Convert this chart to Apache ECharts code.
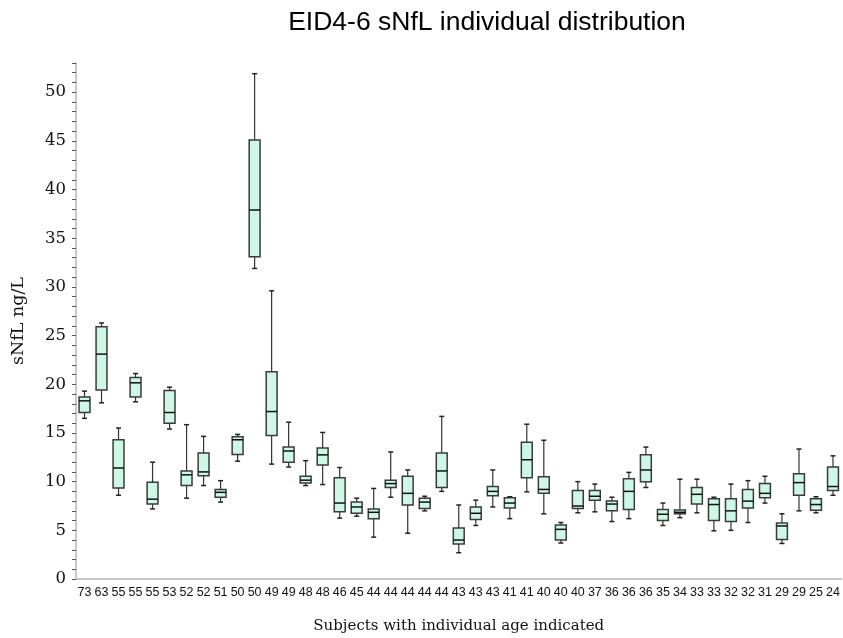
<!DOCTYPE html>
<html>
<head>
<meta charset="utf-8">
<script src="https://cdn.jsdelivr.net/npm/echarts@6/dist/echarts.min.js"></script>
<style>
  html, body { margin: 0; padding: 0; background: #fff; }
  #chart { width: 843px; height: 638px; }
</style>
</head>
<body>
<div id="chart"></div>
<script>
// Subject ages, one box per subject
const ages = ['73','63','55','55','55','53','52','52','51','50','50','49','49','48','48','46','45',
  '44','44','44','44','44','43','43','43','41','41','40','40','40','37','36','36','36','35','34',
  '33','33','32','32','31','29','29','25','24'];

// Five-number summaries per subject (sNfL, ng/L)
const whiskerLow = [16.5, 18.1, 8.6, 18.2, 7.2, 15.4, 8.3, 9.6, 7.9, 12.1, 31.9, 11.8, 11.5, 9.6, 9.7,
  6.25, 6.45, 4.3, 8.4, 4.7, 7.0, 9.0, 2.7, 5.5, 7.4, 6.2, 8.95, 6.7, 3.7, 6.8, 6.9, 5.9, 6.2, 9.4,
  5.5, 6.3, 6.8, 4.95, 5.0, 5.8, 7.8, 3.65, 7.0, 6.8, 8.6];
const quartile1 = [17.1, 19.4, 9.35, 18.7, 7.7, 16.0, 9.6, 10.6, 8.4, 12.8, 33.1, 14.75, 12.0, 9.85, 11.7,
  6.9, 6.75, 6.2, 9.4, 7.6, 7.25, 9.4, 3.6, 6.1, 8.55, 7.3, 10.4, 8.8, 4.0, 7.25, 8.1, 7.0, 7.15, 10.0,
  6.0, 6.7, 7.7, 6.0, 5.9, 7.3, 8.35, 4.05, 8.6, 7.05, 9.1];
const medians = [18.3, 23.1, 11.4, 20.15, 8.2, 17.1, 10.7, 11.0, 8.9, 14.3, 37.9, 17.2, 13.15, 10.15, 12.75,
  7.8, 7.4, 6.85, 9.8, 8.8, 7.9, 11.1, 4.0, 6.75, 9.0, 7.8, 12.25, 9.2, 5.1, 7.5, 8.5, 7.7, 9.0, 11.2,
  6.65, 6.85, 8.7, 7.65, 7.0, 8.0, 8.8, 5.45, 9.9, 7.65, 9.5];
const quartile3 = [18.7, 25.9, 14.3, 20.7, 9.95, 19.35, 11.1, 12.95, 9.2, 14.6, 45.1, 21.3, 13.55, 10.55, 13.45,
  10.4, 7.9, 7.2, 10.15, 10.55, 8.3, 12.95, 5.25, 7.4, 9.5, 8.35, 14.05, 10.5, 5.55, 9.1, 9.1, 8.0, 10.3, 12.75,
  7.15, 7.1, 9.4, 8.25, 8.25, 9.2, 9.8, 5.75, 10.8, 8.25, 11.5];
const whiskerHigh = [19.3, 26.3, 15.5, 21.1, 12.0, 19.7, 15.85, 14.65, 10.1, 14.85, 51.9, 29.6, 16.1, 12.15, 15.05,
  11.45, 8.3, 9.3, 13.05, 11.2, 8.5, 16.7, 7.6, 8.1, 11.2, 8.45, 15.9, 14.25, 5.8, 10.0, 9.75, 8.4, 10.95, 13.55,
  7.8, 10.25, 10.25, 8.4, 9.75, 10.1, 10.55, 6.7, 13.35, 8.45, 12.65];

const boxData = ages.map((a, i) => [i, whiskerLow[i], quartile1[i], medians[i], quartile3[i], whiskerHigh[i]]);

const serifFont = '"DejaVu Serif", "Liberation Serif", serif';
const sansFont = '"Liberation Sans", Arial, sans-serif';

function renderBox(params, api) {
  const i = api.value(0);
  const x = api.coord([i, 0])[0];
  const yLow = api.coord([i, api.value(1)])[1];
  const yQ1 = api.coord([i, api.value(2)])[1];
  const yMed = api.coord([i, api.value(3)])[1];
  const yQ3 = api.coord([i, api.value(4)])[1];
  const yHigh = api.coord([i, api.value(5)])[1];
  const band = api.size([1, 0])[0];
  const hw = band * 0.32;
  const cap = 2.5;
  const lineStyle = { stroke: '#333', lineWidth: 1.2 };
  return {
    type: 'group',
    children: [
      { type: 'line', shape: { x1: x, y1: yQ3, x2: x, y2: yHigh }, style: lineStyle },
      { type: 'line', shape: { x1: x, y1: yQ1, x2: x, y2: yLow }, style: lineStyle },
      { type: 'line', shape: { x1: x - cap, y1: yHigh, x2: x + cap, y2: yHigh }, style: { stroke: '#222', lineWidth: 1.5 } },
      { type: 'line', shape: { x1: x - cap, y1: yLow, x2: x + cap, y2: yLow }, style: { stroke: '#222', lineWidth: 1.5 } },
      { type: 'rect', shape: { x: x - hw, y: yQ3, width: hw * 2, height: yQ1 - yQ3 },
        style: { fill: '#cdf7e6', stroke: '#3a3a3a', lineWidth: 1.5 } },
      { type: 'line', shape: { x1: x - hw, y1: yMed, x2: x + hw, y2: yMed }, style: { stroke: '#111', lineWidth: 1.5 } }
    ]
  };
}

const chart = echarts.init(document.getElementById('chart'), null, { renderer: 'canvas' });
chart.setOption({
  backgroundColor: '#fff',
  animation: false,
  title: {
    text: 'EID4-6 sNfL individual distribution',
    left: 482,
    top: 4,
    textAlign: 'center',
    textStyle: { fontFamily: sansFont, fontSize: 26.5, fontWeight: 'normal', color: '#000' }
  },
  grid: { left: 76, right: 1.5, top: 63, bottom: 59, containLabel: false, outerBoundsMode: 'none' },
  xAxis: {
    type: 'category',
    data: ages,
    name: 'Subjects with individual age indicated',
    nameLocation: 'middle',
    nameGap: 40,
    nameTextStyle: { fontFamily: serifFont, fontSize: 15, color: '#111' },
    axisLine: { lineStyle: { color: '#c8c8c8', width: 2 } },
    axisTick: { alignWithLabel: true, length: 5, lineStyle: { color: '#444' } },
    axisLabel: { interval: 0, margin: 7, fontFamily: sansFont, fontSize: 12.5, color: '#111' },
    splitLine: { show: false }
  },
  yAxis: {
    type: 'value',
    min: 0,
    max: 53,
    interval: 1,
    name: 'sNfL ng/L',
    nameLocation: 'middle',
    nameGap: 49,
    nameRotate: 90,
    nameTextStyle: { fontFamily: serifFont, fontSize: 17.5, color: '#111' },
    axisLine: { show: true, lineStyle: { color: '#c8c8c8', width: 2 } },
    axisTick: { show: true, length: 4, lineStyle: { color: '#555' } },
    axisLabel: {
      margin: 10,
      fontFamily: serifFont,
      fontSize: 16.5,
      color: '#111',
      formatter: v => (v % 5 === 0 ? String(v) : '')
    },
    splitLine: { show: false }
  },
  series: [{
    type: 'custom',
    renderItem: renderBox,
    encode: { x: 0, y: [1, 2, 3, 4, 5] },
    data: boxData,
    clip: false
  }]
});
</script>
</body>
</html>
